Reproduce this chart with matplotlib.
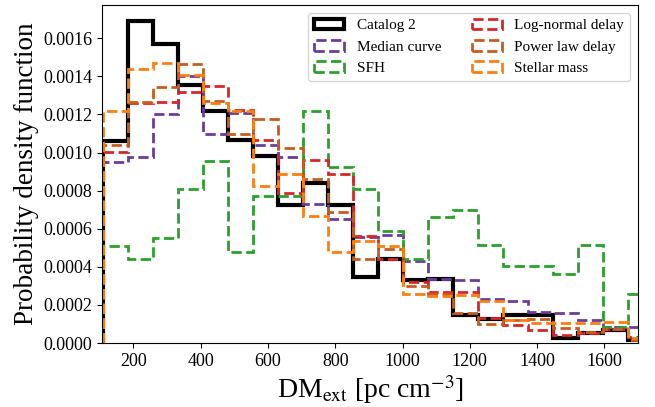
import numpy as np
import matplotlib
matplotlib.use("Agg")
import matplotlib.pyplot as plt
from matplotlib.ticker import FormatStrFormatter

plt.rcParams['font.family'] = ['Liberation Serif', 'DejaVu Serif']
plt.rcParams['mathtext.fontset'] = 'stix'

# histogram bins (DM_ext, pc cm^-3)
bin_edges = 110 + 74.25 * np.arange(23)

# densities, units of 1e-4
catalog2 = [10.6, 16.9, 15.7, 13.55, 12.2, 10.64, 9.84, 7.25, 8.38, 7.25, 3.47,
            4.43, 3.30, 3.39, 1.45, 1.25, 1.47, 1.47, 0.26, 0.52, 0.71, 0.15]
median_curve = [9.5, 9.77, 12.0, 14.0, 11.0, 12.08, 10.38, 9.76, 7.3, 6.51, 5.59,
                5.68, 4.32, 3.36, 3.33, 2.32, 2.2, 1.65, 1.56, 1.21, 0.87, 0.87]
sfh = [5.12, 4.39, 5.5, 8.07, 9.58, 4.77, 7.72, 7.72, 12.18, 9.22, 8.1,
       5.88, 4.41, 6.63, 6.98, 5.15, 4.04, 4.04, 3.65, 5.16, 0.87, 2.57]
lognormal = [10.05, 12.58, 12.63, 13.19, 13.5, 12.24, 10.68, 7.86, 9.63, 8.9, 5.6,
             4.43, 3.21, 2.69, 2.69, 1.33, 0.93, 0.69, 0.43, 0.55, 0.73, 0.34]
powerlaw = [10.42, 12.67, 13.42, 14.67, 12.72, 10.97, 11.77, 10.22, 8.62, 6.89, 4.41,
            4.95, 3.0, 2.6, 1.58, 1.0, 1.2, 1.25, 0.78, 0.6, 0.73, 0.17]
stellar_mass = [12.2, 14.41, 14.72, 14.05, 12.58, 12.2, 8.24, 8.85, 6.68, 4.77, 5.34,
                5.07, 2.6, 2.46, 2.5, 2.2, 1.2, 1.07, 1.04, 1.04, 1.13, 0.26]

labels = ['Catalog 2', 'Median curve', 'SFH', 'Log-normal delay',
          'Power law delay', 'Stellar mass']
series = [catalog2, median_curve, sfh, lognormal, powerlaw, stellar_mass]
colors = ['black', '#6a3d9a', '#2ca02c', '#d62728', '#c65d1e', '#ff7f0e']

centers = 0.5 * (bin_edges[:-1] + bin_edges[1:])

fig = plt.figure(figsize=(6.55, 4.07), dpi=100)
ax = fig.add_axes([0.156, 0.157, 0.818, 0.831])

for i, (vals, lab, c) in enumerate(zip(series, labels, colors)):
    w = np.array(vals) * 1e-4
    if i == 0:
        ax.hist(centers, bins=bin_edges, weights=w, histtype='step',
                color=c, lw=3, label=lab)
    else:
        ax.hist(centers, bins=bin_edges, weights=w, histtype='step',
                color=c, lw=2, ls='--', label=lab)

ax.set_xlim(107, 1700)
ax.set_ylim(0, 0.001775)
ax.set_xticks(np.arange(200, 1601, 200))
ax.set_yticks(np.arange(0, 0.00161, 0.0002))
ax.yaxis.set_major_formatter(FormatStrFormatter('%.4f'))
ax.tick_params(labelsize=13)

ax.set_xlabel(r'DM$_{\rm ext}$ [pc cm$^{-3}$]', fontsize=20, labelpad=2)
ax.set_ylabel('Probability density function', fontsize=19.5, labelpad=3)
ax.legend(ncol=2, loc='upper right', fontsize=11)

fig.savefig('out.png', dpi=100)
